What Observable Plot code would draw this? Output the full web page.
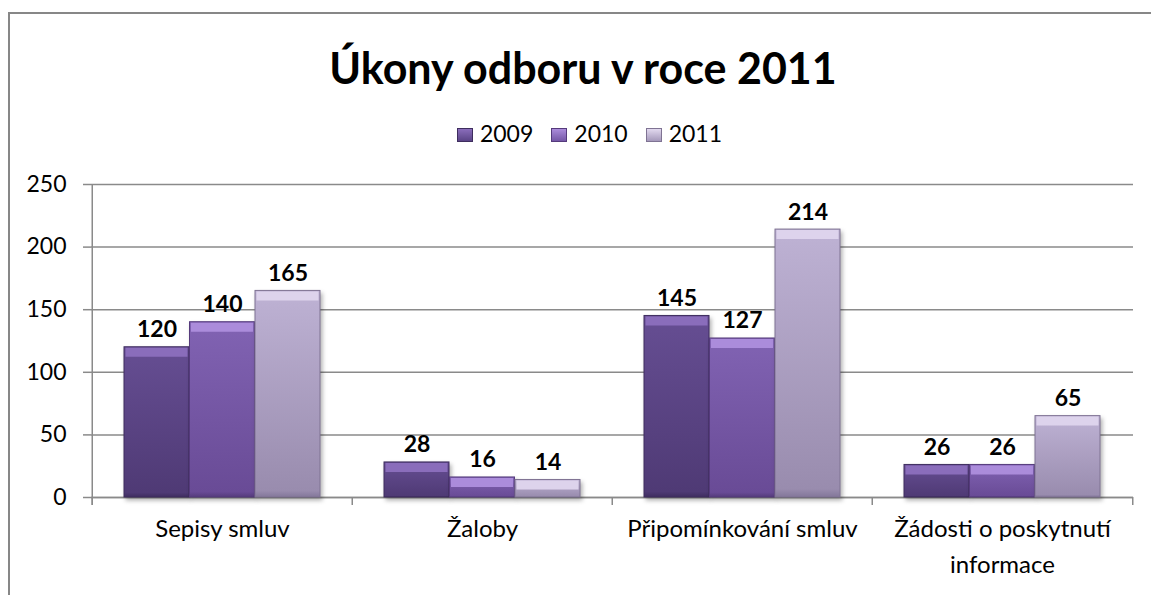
<!DOCTYPE html>
<html>
<head>
<meta charset="utf-8">
<script src="https://cdn.jsdelivr.net/npm/d3@7"></script>
<script src="https://cdn.jsdelivr.net/npm/@observablehq/plot@0.6"></script>
<style>
html,body{margin:0;padding:0;overflow:hidden;background:#fff;}
body{width:1151px;height:595px;position:relative;font-family:Lato,sans-serif;color:#000;}
#frame{position:absolute;left:8px;top:12px;width:1200px;height:700px;border:2px solid #878787;box-sizing:border-box;}
#title{position:absolute;left:0;width:1166px;top:46px;text-align:center;font:bold 43px/1 Lato,sans-serif;}
#legend{position:absolute;top:122px;left:0;width:1179px;display:flex;justify-content:center;align-items:center;font:23px/1 Lato,sans-serif;}
#legend .item{display:flex;align-items:center;margin:0 9px;}
#legend .sw{width:16px;height:14px;margin-right:7px;box-sizing:border-box;position:relative;top:1px;}
#chart{position:absolute;left:0;top:150px;}
#chart g[aria-label="bar"]{filter:drop-shadow(2px 3px 2px rgba(0,0,0,0.3));}
</style>
</head>
<body>
<div id="frame"></div>
<div id="title">Úkony odboru v roce 2011</div>
<div id="legend"></div>
<svg width="0" height="0" style="position:absolute;left:0;top:0">
  <defs>
    <linearGradient id="g0" x1="0" y1="0" x2="0" y2="1">
      <stop offset="0" stop-color="#664e93"/>
      <stop offset="0.97" stop-color="#4f3a75"/>
      <stop offset="1" stop-color="#3f2d60"/>
    </linearGradient>
    <linearGradient id="g1" x1="0" y1="0" x2="0" y2="1">
      <stop offset="0" stop-color="#8163b3"/>
      <stop offset="0.97" stop-color="#694b96"/>
      <stop offset="1" stop-color="#553b7c"/>
    </linearGradient>
    <linearGradient id="g2" x1="0" y1="0" x2="0" y2="1">
      <stop offset="0" stop-color="#beb2d4"/>
      <stop offset="0.97" stop-color="#998cae"/>
      <stop offset="1" stop-color="#83779a"/>
    </linearGradient>
  </defs>
</svg>
<div id="chart"></div>
<script>
const categories = ["Sepisy smluv", "Žaloby", "Připomínkování smluv", "Žádosti o poskytnutí informace"];
const years = ["2009", "2010", "2011"];
const values2009 = [120, 28, 145, 26];
const values2010 = [140, 16, 127, 26];
const values2011 = [165, 14, 214, 65];
const yTicks = [0, 50, 100, 150, 200, 250];

const seriesValues = [values2009, values2010, values2011];
const fills = ["url(#g0)", "url(#g1)", "url(#g2)"];
const bevels = ["#8a6dbb", "#ab8cdb", "#ddd3ec"];
const edges = ["#3e2d5e", "#553a7c", "#7f7393"];
const swatchCss = [
  "linear-gradient(#8a6dbb,#5a4486)",
  "linear-gradient(#ab8cdb,#7457a6)",
  "linear-gradient(#e2d9ef,#a599bb)"
];

// legend
const legend = document.getElementById("legend");
years.forEach((y, i) => {
  const item = document.createElement("div");
  item.className = "item";
  const sw = document.createElement("span");
  sw.className = "sw";
  sw.style.background = swatchCss[i];
  sw.style.border = "1px solid " + edges[i];
  const t = document.createElement("span");
  t.textContent = y;
  item.appendChild(sw);
  item.appendChild(t);
  legend.appendChild(item);
});

const rows = [];
seriesValues.forEach((vals, s) => {
  categories.forEach((c, k) => rows.push({category: c, year: years[s], s, value: vals[k]}));
});

const W = 1151, ML = 91, MR = 18, MT = 34, PH = 313, MB = 95;
const band = (W - ML - MR) / categories.length;
const pad = 32;
const bw = (band - 2 * pad) / years.length;

const marks = [
  Plot.gridY(yTicks, {stroke: "#8a8a8a", strokeOpacity: 1, strokeWidth: 1.5}),
  Plot.axisY(yTicks, {tickSize: 8, tickPadding: 17, fontSize: 23, stroke: "#8a8a8a", strokeWidth: 1.5, fill: "black", label: null}),
  Plot.axisX({tickSize: 0, tickPadding: 14, fontSize: 24, lineHeight: 1.5, fill: "black", label: null,
    tickFormat: d => d.replace("poskytnutí ", "poskytnutí\n")}),
  Plot.ruleY([0], {stroke: "#8a8a8a", strokeWidth: 1.5}),
  Plot.ruleX([categories[0]], {x: d => d, dx: -band / 2, stroke: "#8a8a8a", strokeWidth: 1.5, insetBottom: -8}),
  Plot.ruleX(categories, {x: d => d, dx: -band / 2, stroke: "#8a8a8a", strokeWidth: 1.5, insetTop: PH, insetBottom: -8}),
  Plot.ruleX([categories[categories.length - 1]], {x: d => d, dx: band / 2, stroke: "#8a8a8a", strokeWidth: 1.5, insetTop: PH, insetBottom: -8})
];

years.forEach((yr, s) => {
  const data = rows.filter(r => r.s === s);
  const insetLeft = pad + s * bw;
  const insetRight = band - pad - (s + 1) * bw;
  marks.push(Plot.barY(data, {x: "category", y: "value", fill: fills[s], stroke: edges[s], strokeWidth: 1, insetLeft, insetRight}));
  marks.push(Plot.tickY(data, {x: "category", y: "value", stroke: bevels[s], strokeWidth: 9, dy: 5, insetLeft: insetLeft + 1.5, insetRight: insetRight + 1.5}));
  marks.push(Plot.text(data, {x: "category", y: "value", text: d => String(d.value), dx: (s - 1) * bw, dy: -10,
    lineAnchor: "bottom", fontSize: 23, fontWeight: "bold", fill: "black"}));
});

const chart = Plot.plot({
  width: W,
  height: MT + PH + MB,
  marginLeft: ML,
  marginRight: MR,
  marginTop: MT,
  marginBottom: MB,
  style: {fontFamily: "Lato, sans-serif", fontSize: "22px", color: "black", background: "transparent", overflow: "visible"},
  x: {domain: categories, padding: 0, axis: null},
  y: {domain: [0, 250], axis: null},
  marks
});
document.getElementById("chart").appendChild(chart);
</script>
</body>
</html>
